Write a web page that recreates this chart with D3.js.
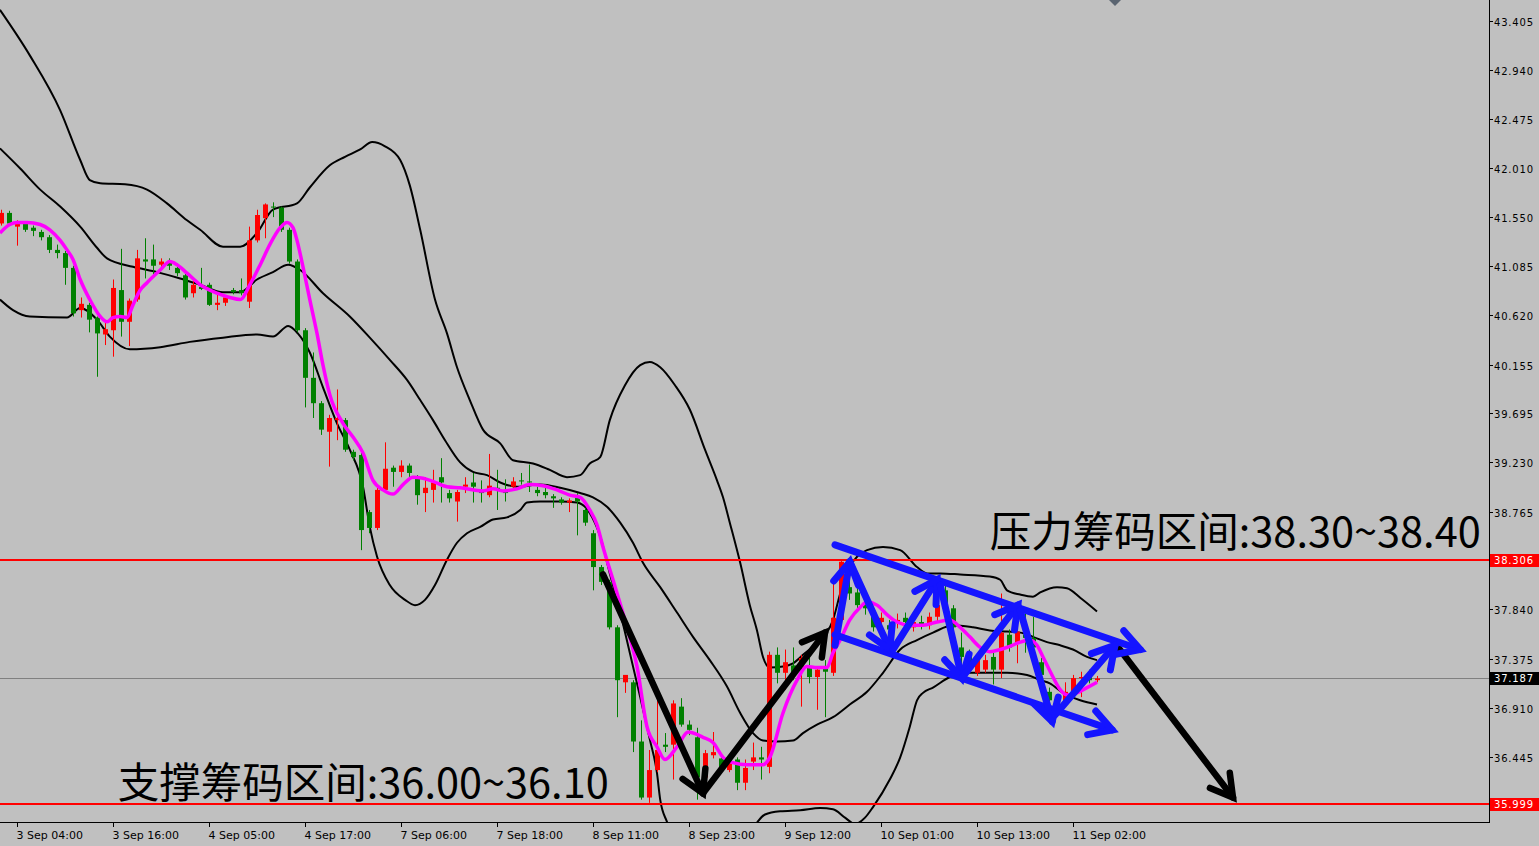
<!DOCTYPE html>
<html><head><meta charset="utf-8">
<script src="https://cdn.jsdelivr.net/npm/d3@7"></script>
<style>html,body{margin:0;padding:0;background:#c0c0c0;overflow:hidden}</style>
</head><body><svg id="c" width="1539" height="846"></svg>
<script>
// ---------- DATA ----------
const timeTickIndex = [2,14,26,38,50,62,74,86,98,110,122,134];
const timeTickLabels = ["3 Sep 04:00","3 Sep 16:00","4 Sep 05:00","4 Sep 17:00","7 Sep 06:00","7 Sep 18:00","8 Sep 11:00","8 Sep 23:00","9 Sep 12:00","10 Sep 01:00","10 Sep 13:00","11 Sep 02:00"];
const priceTicks = [43.405,42.940,42.475,42.010,41.550,41.085,40.620,40.155,39.695,39.230,38.765,37.840,37.375,36.910,36.445];
const resistancePrice = 38.306;
const supportPrice = 35.999;
const lastPrice = 37.187;
const resistanceText = "压力筹码区间:38.30~38.40";
const supportText = "支撑筹码区间:36.00~36.10";

const open = [41.49,41.59,41.46,41.49,41.45,41.41,41.36,41.24,41.21,41.07,
40.67,40.72,40.60,40.44,40.48,40.86,40.56,40.77,41.15,41.15,
41.10,41.13,41.07,41.00,40.83,40.89,40.91,40.72,40.74,40.86,
40.86,40.75,41.33,41.54,41.65,41.64,41.43,41.13,40.48,40.03,
39.79,39.52,39.63,39.63,39.33,39.30,38.76,38.61,38.97,39.18,
39.14,39.20,39.09,38.94,38.97,39.09,38.94,38.86,39.00,39.04,
38.97,38.92,38.99,38.95,39.00,39.06,39.05,38.97,38.95,38.91,
38.88,38.85,38.90,38.78,38.56,38.24,38.10,37.67,37.15,37.15,
36.59,36.06,36.32,36.56,36.56,36.92,36.75,36.63,36.25,36.46,
36.43,36.32,36.42,36.20,36.40,36.44,36.35,37.41,37.24,37.31,
37.30,37.30,37.20,37.30,37.24,37.74,38.05,38.00,37.90,37.77,
37.72,37.69,37.71,37.76,37.67,37.72,37.69,37.77,38.02,37.85,
37.48,37.43,37.24,37.27,37.39,37.27,37.60,37.52,37.60,37.57,
37.34,37.06,36.94,36.95,37.06,37.19,37.20,37.17];
const high = [41.62,41.61,41.52,41.51,41.47,41.43,41.38,41.29,41.23,41.09,
40.79,40.74,40.61,40.56,40.96,41.25,40.78,41.24,41.35,41.29,
41.16,41.16,41.11,41.03,40.97,41.07,40.93,40.83,40.81,40.88,
40.97,41.46,41.62,41.68,41.69,41.65,41.45,41.15,40.50,40.27,
39.81,39.68,39.92,39.65,39.35,39.32,38.78,38.99,39.42,39.20,
39.25,39.22,39.11,39.09,39.16,39.27,38.97,38.97,39.09,39.13,
39.06,39.31,39.16,39.07,39.09,39.13,39.21,39.00,39.02,38.93,
38.90,38.89,38.94,38.80,38.59,38.26,38.12,37.69,37.20,37.17,
36.79,36.51,37.01,36.67,36.98,37.00,36.79,36.72,36.51,36.68,
36.46,36.42,36.44,36.42,36.58,36.54,37.44,37.48,37.46,37.48,
37.41,37.38,37.30,37.36,38.10,38.31,38.23,38.04,37.95,37.81,
37.81,37.74,37.80,37.81,37.76,37.78,37.81,37.93,38.07,37.88,
37.62,37.46,37.41,37.41,37.43,37.99,37.65,37.77,37.81,37.77,
37.38,37.10,36.98,37.15,37.22,37.25,37.27,37.21];
const low = [41.47,41.48,41.28,41.41,41.37,41.33,41.21,41.16,40.91,40.61,
40.60,40.46,40.04,40.34,40.23,40.42,40.33,40.75,40.97,41.00,
41.07,41.05,40.99,40.77,40.79,40.86,40.71,40.67,40.71,40.82,
40.81,40.69,41.31,41.35,41.55,41.41,41.11,40.46,39.75,39.65,
39.49,39.19,39.44,39.33,39.25,38.40,38.56,38.59,38.95,39.00,
39.09,39.06,38.83,38.76,38.85,38.85,38.85,38.67,38.94,38.85,
38.85,38.90,38.78,38.86,38.97,39.02,38.95,38.91,38.89,38.80,
38.83,38.76,38.54,38.63,38.02,38.07,37.65,36.82,37.05,36.49,
36.04,36.01,36.30,36.49,36.23,36.73,36.65,36.04,36.23,36.43,
36.32,36.30,36.13,36.13,36.32,36.23,36.29,37.14,37.08,37.17,
36.92,37.14,36.89,36.82,37.21,37.72,37.93,37.83,37.79,37.63,
37.66,37.60,37.66,37.65,37.63,37.65,37.65,37.72,37.81,37.64,
37.27,37.31,37.21,37.24,37.13,37.19,37.44,37.33,37.43,37.39,
37.19,36.95,36.87,36.93,37.03,37.01,37.14,37.15];
const close = [41.59,41.49,41.50,41.43,41.42,41.36,41.24,41.21,41.07,40.64,
40.73,40.58,40.45,40.49,40.88,40.56,40.76,41.16,41.13,41.09,
41.13,41.09,41.02,40.79,40.91,40.87,40.72,40.74,40.79,40.84,
40.83,41.33,41.57,41.67,41.64,41.43,41.13,40.48,40.03,39.79,
39.54,39.65,39.65,39.35,39.28,38.59,38.61,38.97,39.17,39.14,
39.20,39.13,38.92,38.99,39.04,39.04,38.89,38.95,39.02,39.00,
38.94,39.01,38.97,38.94,39.05,39.05,39.04,38.94,38.92,38.89,
38.85,38.87,38.86,38.66,38.24,38.10,37.67,37.17,37.22,36.59,
36.06,36.32,36.51,36.54,36.95,36.75,36.70,36.25,36.48,36.49,
36.35,36.39,36.20,36.34,36.44,36.42,37.41,37.24,37.34,37.22,
37.38,37.20,37.27,37.25,37.76,38.29,37.99,37.88,37.85,37.67,
37.76,37.65,37.74,37.72,37.72,37.69,37.77,37.88,37.86,37.67,
37.39,37.34,37.36,37.36,37.27,37.62,37.48,37.63,37.57,37.48,
37.22,36.98,36.91,37.06,37.19,37.20,37.17,37.187];

// Bollinger bands, read as [candle index, price]
const upperBand = [[-0.13,43.51],[3.6,43.08],[7.4,42.56],[9.9,42.09],[11.1,41.90],[12.4,41.87],[15.5,41.86],[18.25,41.81],[20.75,41.68],[23.25,41.52],[24.9,41.43],[27.75,41.27],[29.9,41.27],[32,41.40],[34,41.62],[37,41.68],[38.6,41.83],[41.1,42.04],[43,42.12],[44.9,42.19],[46.4,42.26],[48,42.22],[49.9,42.09],[51.1,41.85],[52.4,41.43],[54.25,40.77],[55.75,40.45],[57,40.13],[58.6,39.82],[60.25,39.54],[62.4,39.41],[64,39.25],[66.5,39.22],[68.6,39.16],[70.75,39.09],[72.4,39.11],[73.6,39.22],[74.9,39.28],[76.1,39.63],[78,39.96],[79.9,40.15],[81.1,40.18],[82.4,40.13],[84.25,39.96],[86.1,39.73],[88,39.35],[89.5,39.06],[90.25,38.90],[91.1,38.66],[92.4,38.28],[93.6,37.88],[94.5,37.64],[95.25,37.39],[96.1,37.29],[97.75,37.30],[99,37.33],[100.25,37.41],[102,37.52],[103.25,37.62],[104,37.74],[104.9,37.99],[106.1,38.24],[108.25,38.40],[110.25,38.43],[112.4,38.40],[114.5,38.24],[115.75,38.18],[117.4,38.18],[119.9,38.17],[123.6,38.15],[124.9,38.12],[125.75,38.02],[127.4,37.98],[129,37.96],[129.9,38.00],[132,38.05],[133.25,38.04],[134.9,37.95],[137,37.82]];
const middleBand = [[-0.13,42.20],[2.4,42.01],[4.9,41.81],[7.4,41.65],[9.9,41.46],[12,41.26],[13.25,41.16],[16.5,41.08],[19.5,41.03],[22.4,40.97],[24.9,40.91],[27.75,40.84],[29.9,40.84],[32,40.96],[34,41.03],[35.9,41.10],[37.4,41.05],[40.25,40.83],[43.6,40.61],[46.1,40.41],[48.6,40.20],[50.75,40.01],[52.4,39.82],[54,39.63],[55.5,39.44],[57.4,39.23],[59,39.14],[60.75,39.11],[62.4,39.04],[64.5,39.00],[67.4,39.02],[69.9,38.99],[72.4,38.94],[74,38.90],[75.75,38.81],[77.4,38.66],[79,38.47],[80.25,38.28],[82.4,38.05],[84.5,37.81],[86.5,37.58],[88.6,37.36],[90.75,37.11],[92.4,36.86],[94,36.67],[95.25,36.60],[97,36.59],[99,36.60],[100.25,36.67],[102,36.75],[104,36.82],[106.1,36.94],[108.25,37.06],[110.25,37.24],[112.4,37.46],[114.5,37.55],[116.5,37.62],[119,37.69],[121.5,37.67],[123.6,37.64],[125.75,37.63],[127.4,37.62],[129,37.58],[130.75,37.53],[132.4,37.50],[134,37.46],[135.75,37.39],[137,37.36]];
const lowerBand = [[-0.13,40.77],[1.5,40.67],[3.6,40.61],[8.25,40.60],[9.9,40.69],[12,40.58],[13.6,40.42],[16.1,40.30],[19.9,40.32],[23.6,40.37],[27.75,40.41],[32,40.44],[34,40.42],[35.9,40.52],[37.1,40.45],[38.6,40.27],[40.25,39.94],[42,39.60],[43.6,39.35],[45.25,39.00],[46.1,38.62],[47,38.34],[48.6,38.07],[50.5,37.93],[51.75,37.88],[53,37.93],[54.25,38.07],[55.75,38.31],[57,38.47],[58.25,38.56],[59.9,38.62],[61.5,38.69],[63.25,38.71],[64.9,38.78],[65.75,38.85],[67.4,38.86],[69.9,38.86],[72,38.85],[73.6,38.75],[74.9,38.53],[76.1,38.18],[77.4,37.81],[78.6,37.43],[79.9,37.01],[81.1,36.61],[82,36.29],[82.4,36.04],[83.25,35.83],[84.9,35.61],[87.4,35.47],[89.9,35.47],[92.4,35.61],[94.25,35.80],[95.5,35.90],[97.4,35.93],[99.9,35.94],[102.4,35.96],[104,35.95],[105.5,35.87],[106.75,35.81],[108,35.87],[109,35.97],[111.1,36.23],[112.4,36.44],[113.6,36.73],[114.5,36.98],[115.25,37.05],[116.5,37.10],[118.6,37.20],[120.75,37.24],[122.75,37.24],[125.75,37.24],[128.25,37.22],[129.9,37.17],[131.1,37.14],[132.75,37.05],[134.9,36.98],[137,36.94]];
// short moving average (magenta), read as [candle index, price]
const maLine = [[-0.13,41.40],[1.1,41.48],[2,41.50],[3.25,41.50],[4.9,41.48],[6.1,41.43],[7.4,41.33],[8.25,41.24],[9,41.15],[9.9,40.96],[11.1,40.77],[12.4,40.61],[13.25,40.56],[14,40.60],[14.9,40.61],[15.75,40.60],[16.5,40.72],[17.4,40.86],[18.25,40.93],[19.9,41.05],[21.1,41.13],[22,41.10],[23.25,41.02],[24.9,40.91],[27,40.83],[28.6,40.79],[29.9,40.77],[31.1,40.91],[32.4,41.10],[33.6,41.29],[34.9,41.45],[35.75,41.50],[36.5,41.45],[37,41.33],[37.75,41.08],[38.6,40.77],[39.5,40.45],[40.25,40.15],[41.1,39.87],[42.75,39.60],[44,39.47],[45.25,39.32],[46.5,39.06],[47.75,38.97],[49,38.93],[50.25,39.02],[51.5,39.09],[52.75,39.08],[54,39.05],[55.75,39.00],[57.4,38.99],[60.25,38.96],[61.5,38.98],[62.75,38.96],[64.5,38.98],[66.1,39.02],[67.75,39.01],[69.5,38.97],[71.1,38.92],[72.4,38.90],[73.6,38.78],[74.5,38.64],[75.25,38.43],[76.5,38.12],[78.25,37.67],[79.5,37.30],[80.75,36.73],[82,36.54],[83,36.42],[84.5,36.54],[85.9,36.68],[87.75,36.63],[89,36.58],[90.25,36.44],[91.5,36.39],[93.25,36.37],[95.25,36.37],[96.1,36.44],[97.75,36.86],[99.5,37.17],[100.75,37.30],[102,37.29],[103.25,37.29],[104,37.43],[104.9,37.55],[106.1,37.74],[107.4,37.86],[108.25,37.91],[109.5,37.88],[110.75,37.79],[112,37.72],[113.6,37.69],[115.25,37.69],[117,37.72],[118.6,37.74],[119.9,37.67],[121.1,37.58],[122.4,37.48],[123.6,37.44],[124.9,37.46],[126.1,37.49],[127.4,37.53],[128.6,37.55],[129.5,37.50],[130.25,37.39],[131.5,37.20],[132.4,37.08],[133.25,37.03],[134.5,37.05],[135.75,37.10],[137,37.15]];

// hand-drawn arrows: [[startIndex,startPrice],[endIndex,endPrice]]
const blackArrows = [
  [[75.25,38.17],[87.75,36.10]],
  [[87.75,36.10],[103,37.62]],
  [[139.25,37.52],[154,36.06]]
];
const blueArrows = [
  [[104.25,38.45],[142.4,37.46]],
  [[104.25,37.60],[138.9,36.70]],
  [[104.25,37.50],[106.1,38.29]],
  [[106.1,38.29],[111.1,37.46]],
  [[111.5,37.46],[117,38.12]],
  [[117.4,38.07],[120.1,37.19]],
  [[120.1,37.19],[127.1,37.88]],
  [[127.4,37.83],[131.4,36.78]],
  [[131.75,36.84],[139.25,37.50]]
];
const shiftMarkerIndex = 139.25;
const resistanceLabelAt = [123.6, 38.43];
const supportLabelAt = [14.6, 36.06];

// ---------- DRAW ----------
const W = 1539, H = 846;
const plotRight = 1489, plotBottom = 822;
const svg = d3.select("#c");
svg.append("rect").attr("width",W).attr("height",H).attr("fill","#c0c0c0");

const x = d3.scaleLinear().domain([0,137]).range([1,1097]);
const y = d3.scaleLinear().domain([35.999,43.405]).range([804,21]);

svg.append("defs").append("clipPath").attr("id","plot")
  .append("rect").attr("x",0).attr("y",0).attr("width",plotRight).attr("height",plotBottom);
const g = svg.append("g").attr("clip-path","url(#plot)");

// last price line
g.append("line").attr("x1",0).attr("x2",plotRight).attr("y1",Math.round(y(lastPrice))+0.5).attr("y2",Math.round(y(lastPrice))+0.5)
  .attr("stroke","#808080").attr("stroke-width",1);

// bands
const line = d3.line().x(d=>x(d[0])).y(d=>y(d[1])).curve(d3.curveMonotoneX);
[upperBand, middleBand, lowerBand].forEach(b=>{
  g.append("path").attr("d",line(b)).attr("fill","none").attr("stroke","#000").attr("stroke-width",2);
});

// candles
const idx = d3.range(open.length);
const up = i => close[i] >= open[i];
const colorUp = "#ff0000", colorDn = "#008000";
g.selectAll("line.wick").data(idx).join("line").attr("class","wick")
  .attr("x1",i=>Math.round(x(i))+0.5).attr("x2",i=>Math.round(x(i))+0.5)
  .attr("y1",i=>y(high[i])).attr("y2",i=>y(low[i]))
  .attr("stroke",i=>up(i)?colorUp:colorDn).attr("stroke-width",1);
g.selectAll("rect.body").data(idx).join("rect").attr("class","body")
  .attr("x",i=>Math.round(x(i))-2).attr("width",5)
  .attr("y",i=>Math.min(y(open[i]),y(close[i])))
  .attr("height",i=>Math.max(1,Math.abs(y(open[i])-y(close[i]))))
  .attr("fill",i=>up(i)?colorUp:colorDn);

// MA
g.append("path").attr("d",line(maLine)).attr("fill","none").attr("stroke","#ff00ff").attr("stroke-width",3.5);

// red level lines
[resistancePrice, supportPrice].forEach(p=>{
  g.append("line").attr("x1",0).attr("x2",plotRight).attr("y1",y(p)).attr("y2",y(p))
    .attr("stroke","#ff0000").attr("stroke-width",2);
});

// arrows
function drawArrow(a, color, w, head){
  const x1=x(a[0][0]), y1=y(a[0][1]), x2=x(a[1][0]), y2=y(a[1][1]);
  const ang = Math.atan2(y2-y1, x2-x1);
  const th = Math.PI/6;
  const p1 = [x2 - head*Math.cos(ang-th), y2 - head*Math.sin(ang-th)];
  const p2 = [x2 - head*Math.cos(ang+th), y2 - head*Math.sin(ang+th)];
  svg.append("path").attr("d",`M${x1},${y1}L${x2},${y2}`).attr("stroke",color).attr("stroke-width",w).attr("fill","none").attr("stroke-linecap","round");
  svg.append("path").attr("d",`M${p1[0]},${p1[1]}L${x2},${y2}L${p2[0]},${p2[1]}`).attr("stroke",color).attr("stroke-width",w).attr("fill","none").attr("stroke-linecap","round").attr("stroke-linejoin","miter");
}
blackArrows.forEach(a=>drawArrow(a,"#000",6.5,25));
blueArrows.forEach(a=>drawArrow(a,"#1414ff",7,25));

// annotation text
const cjk = "'Noto Sans CJK SC','Noto Sans',sans-serif";
svg.append("text").attr("x",x(resistanceLabelAt[0])).attr("y",y(resistanceLabelAt[1]))
  .attr("font-family",cjk).attr("font-size",41.5).attr("fill","#000").text(resistanceText);
svg.append("text").attr("x",x(supportLabelAt[0])).attr("y",y(supportLabelAt[1]))
  .attr("font-family",cjk).attr("font-size",41.5).attr("fill","#000").text(supportText);

// frame
svg.append("line").attr("x1",plotRight+0.5).attr("x2",plotRight+0.5).attr("y1",0).attr("y2",plotBottom+1).attr("stroke","#000");
svg.append("line").attr("x1",0).attr("x2",plotRight+1).attr("y1",plotBottom+0.5).attr("y2",plotBottom+0.5).attr("stroke","#000");

// right axis
const axisFont = "'DejaVu Sans',Verdana,sans-serif";
priceTicks.forEach(p=>{
  const yy = Math.round(y(p))+0.5;
  svg.append("line").attr("x1",plotRight).attr("x2",plotRight+4).attr("y1",yy).attr("y2",yy).attr("stroke","#000");
  svg.append("text").attr("x",plotRight+5).attr("y",yy+4).attr("font-family",axisFont).attr("font-size",10)
    .attr("letter-spacing","0.8px").attr("fill","#000").text(p.toFixed(3));
});
[[resistancePrice,"#ff0000"],[lastPrice,"#000"],[supportPrice,"#ff0000"]].forEach(([p,c])=>{
  const yy = Math.round(y(p));
  svg.append("rect").attr("x",plotRight+1).attr("y",yy-6).attr("width",W-plotRight-1).attr("height",13).attr("fill",c);
  svg.append("text").attr("x",plotRight+5).attr("y",yy+4).attr("font-family",axisFont).attr("font-size",10)
    .attr("letter-spacing","0.8px").attr("fill","#fff").text(p.toFixed(3));
});

// bottom axis
timeTickIndex.forEach((ti,k)=>{
  const xx = Math.round(x(ti))+0.5;
  svg.append("line").attr("x1",xx).attr("x2",xx).attr("y1",plotBottom).attr("y2",plotBottom+5).attr("stroke","#000");
  svg.append("text").attr("x",xx-1).attr("y",plotBottom+17).attr("font-family",axisFont).attr("font-size",11)
    .attr("fill","#000").text(timeTickLabels[k]);
});

// chart shift marker
const sx = x(shiftMarkerIndex);
svg.append("path").attr("d",`M${sx-6},0L${sx+6},0L${sx},6Z`).attr("fill","#5a6470");
</script>
</body></html>
